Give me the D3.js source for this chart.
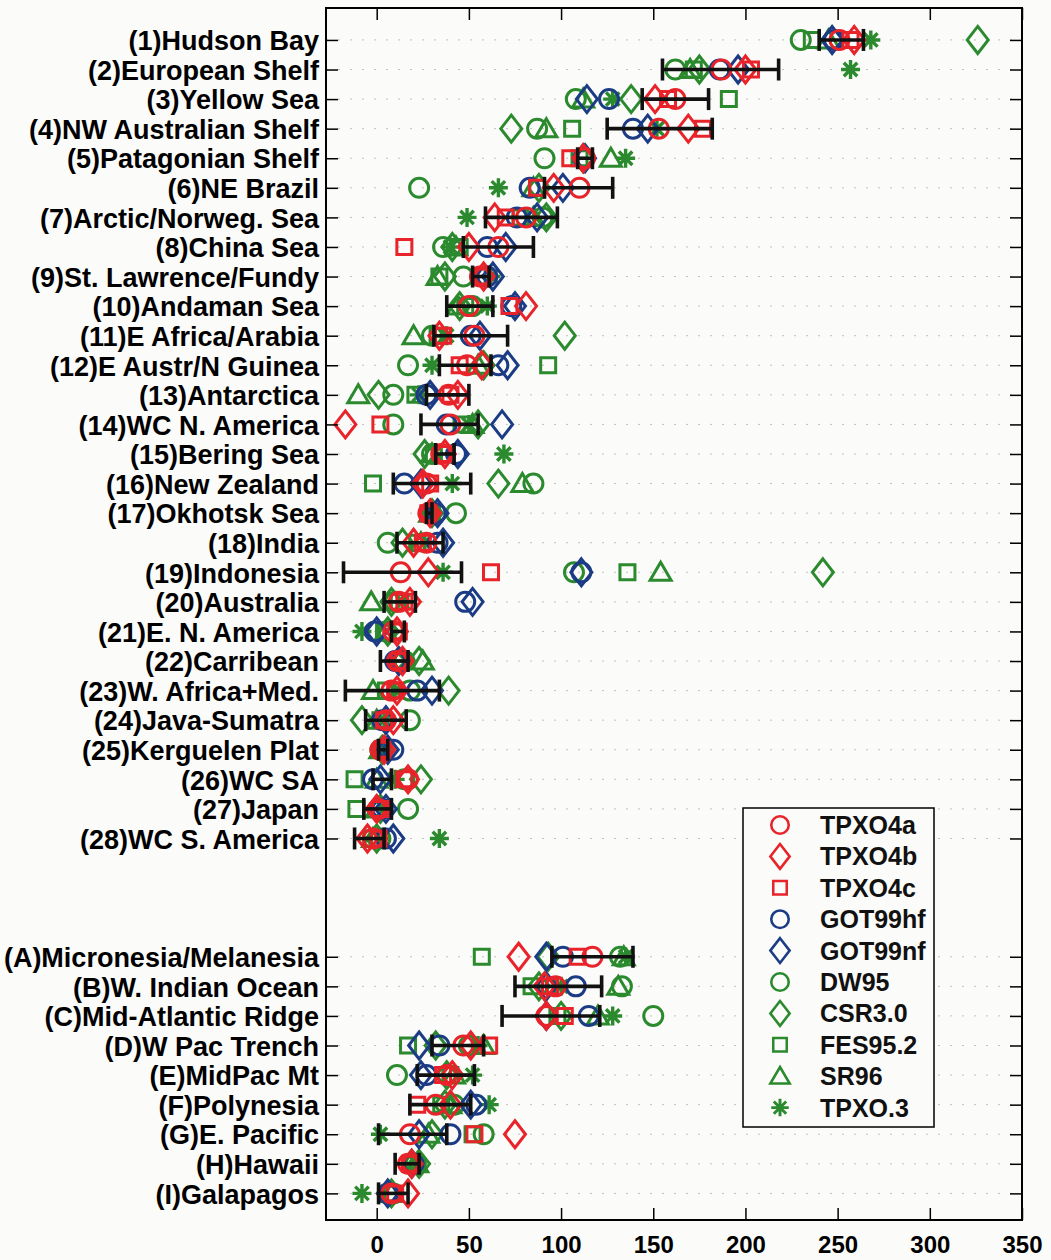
<!DOCTYPE html>
<html>
<head>
<meta charset="utf-8">
<script src="https://cdn.jsdelivr.net/npm/d3@7"></script>
<style>
  html, body { margin: 0; padding: 0; background: #fbfbf9; }
  svg { display: block; }
</style>
</head>
<body>
<svg id="chart" width="1051" height="1260"></svg>
<script>
// ---------------- DATA ----------------
const categories = [
  "(1)Hudson Bay", "(2)European Shelf", "(3)Yellow Sea", "(4)NW Australian Shelf",
  "(5)Patagonian Shelf", "(6)NE Brazil", "(7)Arctic/Norweg. Sea", "(8)China Sea",
  "(9)St. Lawrence/Fundy", "(10)Andaman Sea", "(11)E Africa/Arabia", "(12)E Austr/N Guinea",
  "(13)Antarctica", "(14)WC N. America", "(15)Bering Sea", "(16)New Zealand",
  "(17)Okhotsk Sea", "(18)India", "(19)Indonesia", "(20)Australia",
  "(21)E. N. America", "(22)Carribean", "(23)W. Africa+Med.", "(24)Java-Sumatra",
  "(25)Kerguelen Plat", "(26)WC SA", "(27)Japan", "(28)WC S. America",
  "(A)Micronesia/Melanesia", "(B)W. Indian Ocean", "(C)Mid-Atlantic Ridge", "(D)W Pac Trench",
  "(E)MidPac Mt", "(F)Polynesia", "(G)E. Pacific", "(H)Hawaii", "(I)Galapagos"
];

const seriesNames = ["TPXO4a", "TPXO4b", "TPXO4c", "GOT99hf", "GOT99nf", "DW95", "CSR3.0", "FES95.2", "SR96", "TPXO.3"];

const tpxo4a  = [251,187,162,153,113,110, 81, 66, 56, 50, 53, 49, 39, 40, 35, 27, 28, 27, 13, 12,  9, 11,  8,  5,  2, 17,  1, -2, 117, 97, 92, 47, 38, 32, 18, 17,  8];
const tpxo4b  = [259,200,151,169,112, 96, 64, 50, 58, 81, 34, 57, 44,-17, 37, 25, 29, 20, 28, 18, 11, 14, 11,  9,  4, 17,  0, -5,  77, 91, 92, 51, 41, 40, 75, 19, 17];
const tpxo4c  = [257,203,158,177,105, 87, 70, 15, 57, 72, 36, 45, 40,  2, 36, 29, 28, 25, 62, 15, 12, 12, 10,  4,  3, 15,  2,  1, 109, 94,102, 61, 36, 22, 53, 18, 10];
const got99hf = [248,186,126,139,112, 83, 76, 60, 60, 73, 51, 66, 27, 38, 43, 15, 32, 33,111, 48, -1, 10, 22,  3,  9, -2,  3,  5, 101,108,115, 34, 27, 54, 40, 20,  6];
const got99nf = [247,196,114,147,113,101, 87, 70, 63, 75, 56, 71, 29, 68, 44, 24, 33, 36,111, 52,  0, 12, 30,  5,  6,  2,  5,  9,  92, 92, 92, 23, 24, 51, 23, 19,  6];
const dw95    = [230,162,108, 87, 91, 23, 90, 36, 47, 52, 30, 17,  9,  9, 30, 85, 43,  6,107, 10,  5, 15, 18, 18,  2, 15, 17,  2, 132,133,150, 50, 11, 42, 58, 21,  9];
const csr30   = [326,175,138, 73,112, 88, 92, 41, 37, 45,102, 58,  1, 55, 26, 66, 30, 14,242,  8,  6, 23, 39, -8,  3, 24,  2,  0,  93, 88,100, 32, 38, 37, 30, 23,  8];
const fes952  = [236,172,191,106,110, 87, 78, 45, 34, 48, 33, 93, 21, 46, 31, -2, 30, 22,136, 12,  4, 14,  5,  2,  4,-12,-11, -3,  57, 84, 98, 17, 40, 35, 52, 20,  7];
const sr96    = [245,170,112, 92,127, 85, 85, 43, 33, 44, 20, 55,-10, 52, 30, 79, 29, 24,154, -3,  5, 25, -2,  0,  2,  0,  0, -2, 134,131,120, 58, 42, 40, 28, 22,  8];
const tpxo3   = [268,257,128,152,135, 66, 49, 40, 62, 60, 38, 30, 23, 50, 69, 41, 30, 26, 36, 14, -8, 16, 10,  4,  3, 10,  4, 34, 135,100,128, 55, 52, 61,  2, 22, -8];

const errLow  = [240,155,144,125,109, 91, 59, 47, 52, 38, 31, 34, 27, 24, 32,  9, 27, 11,-18,  4,  8,  2,-17, -6,  1, -2, -7,-12,  95, 75, 68, 30, 22, 18,  1, 10,  1];
const errHigh = [264,218,180,182,117,128, 98, 85, 61, 63, 71, 62, 50, 55, 42, 51, 30, 36, 46, 21, 15, 17, 34, 16,  6,  8,  8,  4, 139,122,121, 58, 53, 51, 38, 23, 17];

const xTicks = [0, 50, 100, 150, 200, 250, 300, 350];

// ---------------- STYLE ----------------
const RED = "#e8232a", BLUE = "#1b3c85", GREEN = "#2b8a2e";
const seriesValues = [tpxo4a, tpxo4b, tpxo4c, got99hf, got99nf, dw95, csr30, fes952, sr96, tpxo3];
const seriesStyle = [
  {color: RED,   shape: "circle"},
  {color: RED,   shape: "diamond"},
  {color: RED,   shape: "square"},
  {color: BLUE,  shape: "circle"},
  {color: BLUE,  shape: "diamond"},
  {color: GREEN, shape: "circle"},
  {color: GREEN, shape: "diamond"},
  {color: GREEN, shape: "square"},
  {color: GREEN, shape: "triangle"},
  {color: GREEN, shape: "star"}
];

const shapePath = {
  circle: d3.arc()({innerRadius: 0, outerRadius: 9.5, startAngle: 0, endAngle: 2 * Math.PI}),
  diamond: "M0,-13.5L10.5,0L0,13.5L-10.5,0Z",
  square: "M-7.5,-7.5L7.5,-7.5L7.5,7.5L-7.5,7.5Z",
  triangle: "M0,-10L10.5,8L-10.5,8Z",
  star: (() => {
    const r = 9.5; let p = "";
    for (let k = 0; k < 4; k++) {
      const a = k * Math.PI / 4;
      const dx = r * Math.sin(a), dy = r * Math.cos(a);
      p += `M${-dx},${-dy}L${dx},${dy}`;
    }
    return p;
  })()
};

// ---------------- LAYOUT ----------------
const plotL = 326, plotR = 1022, plotT = 8, plotB = 1220;
const svg = d3.select("#chart");

const x = d3.scaleLinear().domain([-27.5, 350]).range([plotL, plotR]);
const y = d3.scaleLinear().domain([-1.08, 39.9]).range([plotT, plotB]);
const rowIndex = i => (i < 28 ? i : i + 3);
const rows = categories.map((c, i) => rowIndex(i));

svg.append("rect").attr("x", plotL).attr("y", plotT).attr("width", plotR - plotL).attr("height", plotB - plotT)
  .attr("fill", "#fbfbf9");

svg.append("g").selectAll("line").data(rows).join("line")
  .attr("x1", plotL).attr("x2", plotR)
  .attr("y1", d => y(d)).attr("y2", d => y(d))
  .attr("stroke", "#9a9a9a").attr("stroke-width", 1)
  .attr("stroke-dasharray", "2,10").attr("opacity", 0.6);

const markG = svg.append("g");
for (let s = seriesValues.length - 1; s >= 0; s--) {
  const st = seriesStyle[s];
  markG.append("g").selectAll("path").data(seriesValues[s]).join("path")
    .attr("d", shapePath[st.shape])
    .attr("transform", (v, i) => `translate(${x(v)},${y(rowIndex(i))})`)
    .attr("fill", "none")
    .attr("stroke", st.color)
    .attr("stroke-width", st.shape === "star" ? 3.4 : 3)
    .attr("stroke-linejoin", "miter");
}

const errG = svg.append("g").attr("stroke", "#111").attr("stroke-width", 3.6).attr("fill", "none");
categories.forEach((c, i) => {
  const yy = y(rowIndex(i));
  const x1 = x(errLow[i]), x2 = x(errHigh[i]);
  errG.append("line").attr("x1", x1).attr("x2", x2).attr("y1", yy).attr("y2", yy);
  errG.append("line").attr("x1", x1).attr("x2", x1).attr("y1", yy - 11).attr("y2", yy + 11);
  errG.append("line").attr("x1", x2).attr("x2", x2).attr("y1", yy - 11).attr("y2", yy + 11);
});

const fontFam = "'Liberation Sans', Arial, Helvetica, sans-serif";
const xAxisB = d3.axisBottom(x).tickValues(xTicks).tickFormat(d3.format("d"))
  .tickSizeInner(-12).tickSizeOuter(0).tickPadding(16);
const gxb = svg.append("g").attr("transform", `translate(0,${plotB})`).call(xAxisB);
gxb.select(".domain").remove();
gxb.selectAll("text").attr("font-size", 24).attr("font-weight", "bold").attr("font-family", fontFam).attr("fill", "#000");

const xAxisT = d3.axisTop(x).tickValues(xTicks).tickFormat("").tickSizeInner(-12).tickSizeOuter(0);
const gxt = svg.append("g").attr("transform", `translate(0,${plotT})`).call(xAxisT);
gxt.select(".domain").remove();

const yAxisL = d3.axisLeft(y).tickValues(rows).tickFormat((d) => categories[rows.indexOf(d)])
  .tickSizeInner(-12).tickSizeOuter(0).tickPadding(7);
const gyl = svg.append("g").attr("transform", `translate(${plotL},0)`).call(yAxisL);
gyl.select(".domain").remove();
gyl.selectAll("text").attr("font-size", 27).attr("font-weight", "bold").attr("font-family", fontFam)
  .attr("fill", "#000").attr("dy", "0.36em");

const yAxisR = d3.axisRight(y).tickValues(rows).tickFormat("").tickSizeInner(-12).tickSizeOuter(0);
const gyr = svg.append("g").attr("transform", `translate(${plotR},0)`).call(yAxisR);
gyr.select(".domain").remove();

svg.selectAll(".tick line").attr("stroke", "#000").attr("stroke-width", 1.5);

svg.append("rect").attr("x", plotL).attr("y", plotT).attr("width", plotR - plotL).attr("height", plotB - plotT)
  .attr("fill", "none").attr("stroke", "#000").attr("stroke-width", 2);

const lg = svg.append("g");
const lgX = 743, lgY = 808, lgW = 191, lgH = 319, lgStep = 31.4;
lg.append("rect").attr("x", lgX).attr("y", lgY).attr("width", lgW).attr("height", lgH)
  .attr("fill", "#fbfbf9").attr("stroke", "#000").attr("stroke-width", 1.5);
seriesNames.forEach((name, s) => {
  const yy = lgY + 17 + s * lgStep;
  const st = seriesStyle[s];
  lg.append("path").attr("d", shapePath[st.shape])
    .attr("transform", `translate(${lgX + 37},${yy}) scale(${st.shape === "square" ? 0.9 : 0.92})`)
    .attr("fill", "none").attr("stroke", st.color)
    .attr("stroke-width", st.shape === "star" ? 3.2 : 2.8);
  lg.append("text").attr("x", lgX + 77).attr("y", yy).attr("dy", "0.36em")
    .attr("font-size", 25).attr("font-weight", "bold").attr("font-family", fontFam)
    .attr("fill", "#111").text(name);
});
</script>
</body>
</html>
